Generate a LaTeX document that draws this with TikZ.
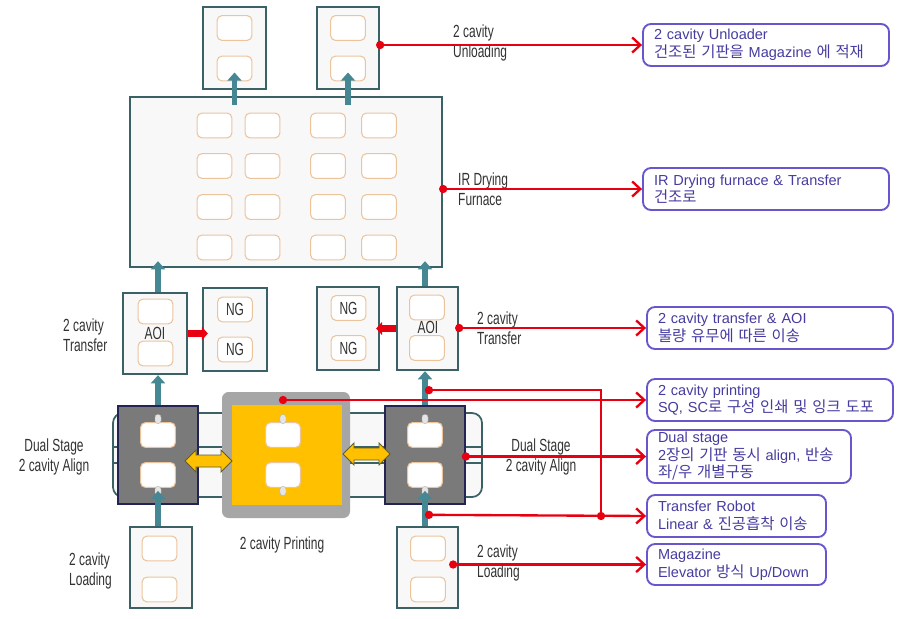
\documentclass[tikz,border=0pt]{standalone}
\usepackage{fontspec}
\setmainfont{Liberation Sans}
\newfontfamily\kr[Scale=1.06]{Noto Sans CJK KR}
\newfontfamily\narrow[FakeStretch=0.68]{Liberation Sans}
\usepackage{tikz}
\usetikzlibrary{calc}
\usetikzlibrary{arrows.meta}

\definecolor{trayline}{RGB}{58,98,102}
\definecolor{trayfill}{RGB}{248,248,248}
\definecolor{slotline}{RGB}{236,196,156}
\definecolor{feedcol}{RGB}{70,135,148}
\definecolor{stagefill}{RGB}{122,122,122}
\definecolor{stageline}{RGB}{36,36,84}
\definecolor{printgray}{RGB}{166,166,166}
\definecolor{printyel}{RGB}{255,192,0}
\definecolor{noteline}{RGB}{104,86,204}
\definecolor{notetext}{RGB}{70,60,160}
\definecolor{linkred}{RGB}{232,0,16}
\definecolor{lbltext}{RGB}{50,50,50}

\begin{document}
\begin{tikzpicture}[x=0.03cm, y=-0.03cm,
  tray/.style={draw=trayline, fill=trayfill, line width=2pt, inner sep=0pt},
  slot/.style={draw=slotline, fill=white, line width=0.9pt, rounded corners=0.14cm, minimum width=1.04cm, minimum height=0.74cm, inner sep=0pt, text=lbltext, font=\narrow\fontsize{15}{17}\selectfont},
  lbl/.style={font=\narrow\fontsize{15}{17}\selectfont, text=lbltext, align=left, inner sep=0pt},
  feed/.style={draw=feedcol, line width=5pt, -{Triangle[length=7pt,width=12pt]}},
  ngfeed/.style={draw=linkred, line width=6pt, -{Triangle[length=5pt,width=11pt]}},
  link/.style={draw=linkred, line width=2pt, -{Straight Barb[length=7pt,width=13pt]}},
  dot/.style={circle, fill=linkred, inner sep=0pt, minimum size=0.25cm},
  note/.style={draw=noteline, fill=white, line width=1.6pt, rounded corners=0.24cm, text=notetext, align=left, inner xsep=0.33cm, inner ysep=0pt, minimum height=1.26cm, font=\fontsize{12.4}{15}\selectfont},
  stage/.style={draw=stageline, fill=stagefill, line width=1.5pt, minimum width=2.4cm, minimum height=2.94cm, inner sep=0pt},
  vac/.style={draw=gray!60, fill=gray!20, rounded corners=0.08cm, minimum width=0.18cm, minimum height=0.27cm, inner sep=0pt},
  shifter/.style={draw=olive!60!black, fill=printyel, line width=0.8pt, line join=miter}
]

\useasboundingbox[fill=white] (0,0) rectangle (907,618);

% unloading
\node[tray, minimum width=1.89cm, minimum height=2.46cm] (unloadL) at (234.5,48) {};
\node[tray, minimum width=1.86cm, minimum height=2.46cm] (unloadR) at (348,48) {};
\node[slot] (uL1) at (234.5,28) {};
\node[slot] (uL2) at (234.5,68.5) {};
\node[slot] (uR1) at (348,28) {};
\node[slot] (uR2) at (348,68.5) {};

% furnace
\node[tray, minimum width=9.36cm, minimum height=5.1cm] (furnace) at (286,182) {};
\foreach \x [count=\i] in {214.5,262.5,328,379}
  \foreach \y [count=\j] in {125.5,166,207,247.5}
    \node[slot] (f\i\j) at (\x,\y) {};

% transfer / AOI
\node[tray, minimum width=1.92cm, minimum height=2.43cm] (aoiL) at (155,333.5) {};
\node[slot] (aL1) at (155.5,311.5) {};
\node[slot] (aL2) at (155.5,353.5) {};
\node[lbl] (aoiLtxt) at (155,333) {AOI};
\node[tray, minimum width=1.92cm, minimum height=2.49cm] (ngL) at (235,329.5) {};
\node[slot] (nL1) at (235,309.5) {NG};
\node[slot] (nL2) at (235,349.5) {NG};
\node[tray, minimum width=1.86cm, minimum height=2.49cm] (ngR) at (348,328.5) {};
\node[slot] (nR1) at (348.5,308) {NG};
\node[slot] (nR2) at (348.5,348) {NG};
\node[tray, minimum width=1.83cm, minimum height=2.49cm] (aoiR) at (427.5,328.5) {};
\node[slot] (aR1) at (427,307.5) {};
\node[slot] (aR2) at (427,348) {};
\node[lbl] (aoiRtxt) at (428,327) {AOI};

% dual stage and printing
\node[draw=trayline, fill=trayfill, line width=1.5pt, rounded corners=0.3cm, minimum width=11.07cm, minimum height=2.52cm] (track) at (297.5,455) {};
\draw[trayline, line width=1.2pt] ($(track.west)+(0,-8)$) -- ($(track.east)+(0,-8)$);
\draw[trayline, line width=1.2pt] ($(track.west)+(0,8)$) -- ($(track.east)+(0,8)$);
\node[stage] (stageL) at (158,455) {};
\node[stage] (stageR) at (425,455) {};
\node[fill=printgray, rounded corners=0.2cm, minimum width=3.84cm, minimum height=3.78cm] (print) at (286,455) {};
\node[fill=printyel, minimum width=3.3cm, minimum height=3.0cm] (printbed) at (287,455) {};
\foreach \x/\n in {158/sL,283/sP,425/sR}{
  \node[slot] (\n1) at (\x,435) {};
  \node[slot] (\n2) at (\x,475) {};
  \node[vac] (\n v1) at (\x,419) {};
  \node[vac] (\n v2) at (\x,491) {};
}
\coordinate (shiftL) at (185,461);
\coordinate (shiftR) at (343,454);
\foreach \c in {shiftL,shiftR}
  \draw[shifter] (\c) -- ++(11,-11) -- ++(0,5) -- ++(25,0) -- ++(0,-5) -- ++(11,11)
    -- ++(-11,11) -- ++(0,-5) -- ++(-25,0) -- ++(0,5) -- cycle;

% loading
\node[tray, minimum width=1.86cm, minimum height=2.43cm] (loadL) at (161,567.5) {};
\node[slot] (lL1) at (159.5,548.5) {};
\node[slot] (lL2) at (159.5,589.5) {};
\node[tray, minimum width=1.83cm, minimum height=2.43cm] (loadR) at (427.5,567.5) {};
\node[slot] (lR1) at (428,548.5) {};
\node[slot] (lR2) at (428,589.5) {};

% flow
\draw[feed] ($(furnace.north -| uL2)+(0,9)$) -- ($(uL2.center)+(0,4)$);
\draw[feed] ($(furnace.north -| uR2)+(0,9)$) -- ($(uR2.center)+(0,4)$);
\draw[feed] (aoiL.north -| stageL) -- ($(furnace.south -| stageL)+(0,-7)$);
\draw[feed] (aoiR.north -| stageR) -- ($(furnace.south -| stageR)+(0,-7)$);
\draw[feed] (stageL.north) -- (aoiL.south -| stageL);
\draw[feed] (stageR.north) -- (aoiR.south -| stageR);
\draw[feed] (loadL.north -| stageL) -- ($(stageL.south)+(0,-14)$);
\draw[feed] (loadR.north -| stageR) -- ($(stageR.south)+(0,-14)$);
\draw[ngfeed] (aoiL.east) -- ($(aoiL.east -| ngL.west)+(6,0)$);
\draw[ngfeed] (aoiR.west) -- ($(aoiR.west -| ngR.east)+(-4,0)$);

% labels
\node[lbl, anchor=west] (lblUnload) at (453,43) {2 cavity\\Unloading};
\node[lbl, anchor=west] (lblFurnace) at (458,189) {IR Drying\\Furnace};
\node[lbl, anchor=west] (lblTransL) at (63,335) {2 cavity\\Transfer};
\node[lbl, anchor=west] (lblTransR) at (477,328) {2 cavity\\Transfer};
\node[lbl, align=center] (lblStageL) at (54,457) {Dual Stage\\2 cavity Align};
\node[lbl, align=center] (lblStageR) at (541,457) {Dual Stage\\2 cavity Align};
\node[lbl] (lblPrint) at (282,545) {2 cavity Printing};
\node[lbl, anchor=west] (lblLoadL) at (69,571) {2 cavity\\Loading};
\node[lbl, anchor=west] (lblLoadR) at (477,563) {2 cavity\\Loading};

% notes
\node[note, text width=6.72cm] (noteUnload) at (766,45) {2 cavity Unloader\\{\kr 건조된 기판을} Magazine {\kr 에 적재}};
\node[note, text width=6.72cm] (noteFurnace) at (766,189) {IR Drying furnace \& Transfer\\{\kr 건조로}};
\node[note, text width=6.72cm] (noteAOI) at (770,328) {2 cavity transfer \& AOI\\{\kr 불량 유무에 따른 이송}};
\node[note, text width=6.72cm] (notePrint) at (770,400) {2 cavity printing\\SQ, SC{\kr 로 구성 인쇄 및 잉크 도포}};
\node[note, text width=5.46cm, minimum height=1.59cm] (noteStage) at (749,456.5) {Dual stage\\2{\kr 장의 기판 동시} align, {\kr 반송}\\{\kr 좌/우 개별구동}};
\node[note, text width=4.71cm] (noteRobot) at (736.5,516) {Transfer Robot\\Linear \& {\kr 진공흡착 이송}};
\node[note, text width=4.71cm, minimum height=1.23cm] (noteMag) at (736.5,564.5) {Magazine\\Elevator {\kr 방식} Up/Down};

% links
\draw[link] (noteUnload.west -| unloadR.east) node[dot] (d1) {} -- (noteUnload.west);
\draw[link] (noteFurnace.west -| furnace.east) node[dot] (d2) {} -- (noteFurnace.west);
\draw[link] (noteAOI.west -| aoiR.east) node[dot] (d3) {} -- (noteAOI.west);
\draw[link] (notePrint.west -| sP1) node[dot] (d4) {} -- (notePrint.west);
\draw[link] (noteStage.west -| stageR.east) node[dot] (d5) {} -- (noteStage.west);
\coordinate (robotT) at ($(aoiR.south -| stageR)+(4,19)$);
\coordinate (robotB) at ($(loadR.north -| stageR)+(4,-11)$);
\coordinate (robotJ) at (601,516);
\draw[link, -] (robotT) -- (robotT -| robotJ) -- (robotJ);
\draw[link] (robotB) -- (noteRobot.west);
\node[dot] (d6) at (robotT) {};
\node[dot] (d7) at (robotB) {};
\node[dot] (d8) at (robotJ) {};
\draw[link] ($(noteMag.west -| loadR.east)+(-6,0)$) node[dot] (d9) {} -- (noteMag.west);

\end{tikzpicture}
\end{document}
